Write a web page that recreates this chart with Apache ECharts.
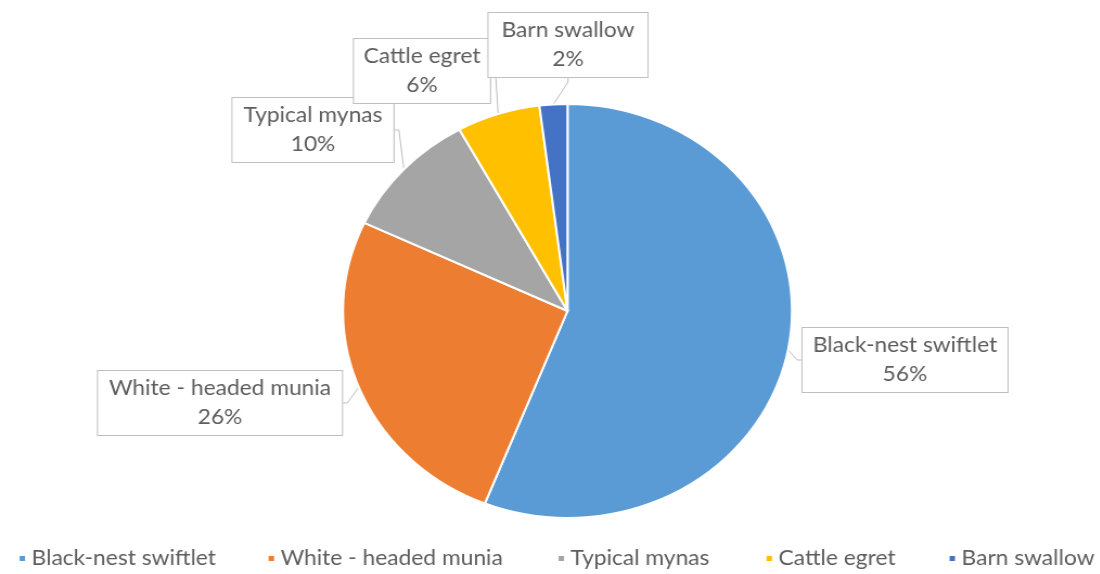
<!DOCTYPE html>
<html>
<head>
<meta charset="utf-8">
<script src="https://cdn.jsdelivr.net/npm/echarts@6/dist/echarts.min.js"></script>
<style>
html,body{margin:0;padding:0;background:#fff;overflow:hidden;}
#wrap{width:1100px;height:574px;overflow:hidden;}
#chart{height:574px;transform-origin:0 0;}
</style>
</head>
<body>
<div id="wrap"><div id="chart"></div></div>
<script>
// ---- data ----
const categories = ['Black-nest swiftlet', 'White - headed munia', 'Typical mynas', 'Cattle egret', 'Barn swallow'];
const percentValues = [56, 26, 10, 6, 2];
const colors = ['#5B9BD5', '#ED7D31', '#A5A5A5', '#FFC000', '#4472C4'];

// ---- layout (final-pixel coordinates) ----
// the reference is stretched horizontally (pie 449 wide x 414 tall)
const SX = 449 / 414;
const pieCenter = [567.5, 311];
const pieRadius = 207;
const labelBoxes = [
  { cx: 905, cy: 360, w: 205, h: 65 },
  { cx: 220, cy: 403, w: 244, h: 63 },
  { cx: 313, cy: 130, w: 161, h: 65 },
  { cx: 422, cy: 71,  w: 136, h: 64 },
  { cx: 568, cy: 45,  w: 159, h: 65 }
];
const legendLeft = [12, 261, 551, 759, 942];

const FONT = 'Lato, "Open Sans", sans-serif';
const TXT = '#5E5E5E';
const FS = 21;

const el = document.getElementById('chart');
el.style.width = (1100 / SX) + 'px';
el.style.transform = 'scaleX(' + SX + ')';

const seriesData = categories.map((name, i) => ({
  name: name,
  value: percentValues[i],
  itemStyle: { color: colors[i] },
  label: { width: labelBoxes[i].w / SX - 16 }
}));

const legends = categories.map((name, i) => ({
  data: [name],
  left: legendLeft[i] / SX,
  top: 543,
  icon: 'rect',
  itemWidth: 7,
  itemHeight: 7,
  itemGap: 8,
  textStyle: { fontFamily: FONT, fontSize: FS, color: TXT },
  selectedMode: false
}));

const chart = echarts.init(el, null, { renderer: 'canvas' });
chart.setOption({
  backgroundColor: '#ffffff',
  animation: false,
  color: colors,
  legend: legends,
  series: [{
    type: 'pie',
    center: [pieCenter[0] / SX, pieCenter[1]],
    radius: [0, pieRadius],
    startAngle: 90,
    clockwise: true,
    data: seriesData,
    itemStyle: { borderColor: '#ffffff', borderWidth: 2 },
    label: {
      show: true,
      formatter: '{b}\n{c}%',
      fontFamily: FONT,
      fontSize: FS,
      lineHeight: 29,
      color: TXT,
      align: 'center',
      backgroundColor: '#ffffff',
      borderColor: '#BFBFBF',
      borderWidth: 1,
      padding: [3, 8]
    },
    labelLine: {
      show: true,
      length: 8,
      length2: 4,
      lineStyle: { color: '#BFBFBF', width: 1 }
    },
    labelLayout: function (params) {
      const b = labelBoxes[params.dataIndex];
      return {
        x: b.cx / SX,
        y: b.cy,
        align: 'center',
        verticalAlign: 'middle'
      };
    }
  }]
});
</script>
</body>
</html>
